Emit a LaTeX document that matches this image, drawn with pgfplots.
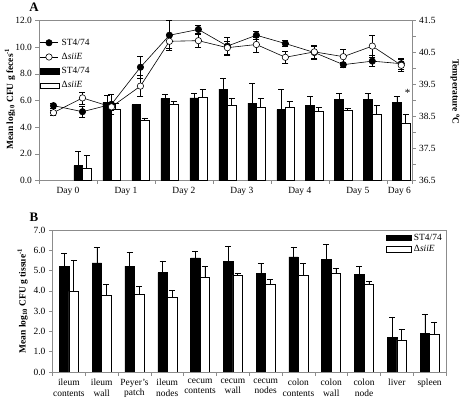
\documentclass[border=0pt]{standalone}
\usepackage{fontspec}
\setmainfont{Liberation Serif}
\usepackage{pgfplots}
\usepackage{pgfplotstable}
\pgfplotsset{compat=1.18}
\definecolor{axgray}{gray}{0.55}

% feces CFU (left axis), half-day positions
\pgfplotstableread{
x  b     be    w     we
1  1.12  1.08  0.95  0.95
2  5.86  0.55  5.36  0.45
3  5.69  0.05  4.49  0.20
4  6.14  0.30  5.74  0.20
5  6.19  0.37  6.26  0.60
6  6.86  0.82  5.61  0.58
7  5.81  1.50  5.49  0.70
8  5.31  1.55  5.49  0.45
9  5.61  0.70  5.19  0.32
10 6.06  0.50  5.24  0.20
11 6.06  0.50  4.99  0.62
12 5.86  0.45  4.32  0.62
}\dataA

% temperature (right axis)
\pgfplotstableread{
x  t      te    o      oe
0  38.84  0.08  38.62  0.08
1  38.65  0.18  39.08  0.19
2  38.88  0.30  38.80  0.10
3  40.04  0.35  39.45  0.33
4  41.04  0.46  40.85  0.21
5  41.22  0.13  40.87  0.21
6  40.70  0.28  40.65  0.20
7  41.04  0.13  40.75  0.23
8  40.78  0.10  40.35  0.20
9  40.50  0.20  40.52  0.20
10 40.12  0.08  40.37  0.24
11 40.23  0.17  40.70  0.34
12 40.15  0.17  40.10  0.20
}\dataT

% tissue CFU
\pgfplotstableread{
x  b     be    w     we
0  5.22  0.65  3.97  1.53
1  5.38  0.79  3.78  0.52
2  5.22  0.68  3.82  0.40
3  4.90  0.58  3.67  0.35
4  5.62  0.35  4.67  0.55
5  5.45  0.77  4.78  0.09
6  4.87  0.50  4.33  0.22
7  5.67  0.50  4.78  0.59
8  5.55  0.73  4.88  0.24
9  4.80  0.42  4.33  0.14
10 1.70  1.02  1.58  0.55
11 1.90  0.97  1.87  0.60
}\dataB

\pgfplotsset{
  base/.style={
    scale only axis,
    tick align=outside,
    axis line style={axgray},
    tick style={axgray, line width=0.5pt},
    major tick length=3.5bp,
    minor tick length=3.5bp,
    tick label style={font=\fontsize{9.5}{10.5}\selectfont, black},
    label style={font=\bfseries\fontsize{9.5}{11}\selectfont},
    /pgf/number format/assume math mode=true,
  },
  errs/.style={error bars/.cd, y dir=#1, y explicit,
    error bar style={black, line width=0.55pt},
    error mark options={rotate=90, black, mark size=3bp, line width=0.55pt}},
}

\begin{document}
\begin{tikzpicture}
\useasboundingbox (0,0) rectangle (462bp,400bp);

% ---------- Panel A: bars (left axis) ----------
\begin{axis}[base,
  at={(39bp,219.5bp)}, anchor=south west,
  width=373bp, height=160bp,
  xmin=-0.5, xmax=12.37, ymin=0, ymax=12,
  xtick={-0.5,1.5,3.5,5.5,7.5,9.5,11.5,12.37},
  x tick label as interval,
  xticklabels={Day 0,Day 1,Day 2,Day 3,Day 4,Day 5,Day 6},
  xtick pos=left, ytick pos=left,
  ytick={0,2,...,12},
  yticklabel style={/pgf/number format/.cd,fixed,fixed zerofill,precision=1},
  ybar=0pt, bar width=8.6bp,
]
\addplot[fill=black, draw=black, line width=0.5pt, errs=plus]
  table[x=x, y=b, y error=be] {\dataA};
\addplot[fill=white, draw=black, line width=0.5pt, errs=plus]
  table[x=x, y=w, y error=we] {\dataA};
\node[font=\fontsize{11}{11}\selectfont] at (axis cs:12.22,6.55) {*};
\end{axis}
\node[rotate=90, font=\bfseries\fontsize{9.5}{11}\selectfont] at (10bp,301bp) {Mean log\textsubscript{10} CFU g feces\textsuperscript{-1}};

% ---------- Panel A: temperature (right axis) ----------
\begin{axis}[base,
  at={(39bp,219.5bp)}, anchor=south west,
  width=373bp, height=160bp,
  xmin=-0.5, xmax=12.37, ymin=36.5, ymax=41.5,
  axis x line=none, axis y line*=right,
  ytick={36.5,37.5,...,41.5},
  minor ytick={37,38,39,40,41},
  yticklabel style={/pgf/number format/.cd,fixed,fixed zerofill,precision=1},
  legend style={at={(0.0,0.905)}, anchor=north west, draw=none, fill=none,
    font=\fontsize{9.5}{11}\selectfont, row sep=2.5bp, inner sep=1bp},
  legend cell align=left,
]
\addplot[black, line width=0.6pt, mark=*, mark size=3.2bp,
  mark options={fill=black, line width=0.6pt}, errs=both]
  table[x=x, y=t, y error=te] {\dataT};
\addplot[black, line width=0.6pt, mark=*, mark size=3.2bp,
  mark options={fill=white, line width=0.6pt}, errs=both]
  table[x=x, y=o, y error=oe] {\dataT};
\addlegendimage{legend image code/.code={\draw[fill=black,draw=black] (0bp,-2.6bp) rectangle (19bp,2.6bp);}}
\addlegendimage{legend image code/.code={\draw[fill=white,draw=black] (0bp,-2.6bp) rectangle (19bp,2.6bp);}}
\legend{ST4/74, Δ\textit{siiE}, ST4/74, Δ\textit{siiE}}
\end{axis}
\node[rotate=-90, font=\bfseries\fontsize{9.5}{11}\selectfont] at (455bp,308bp) {Temperature \textsuperscript{o}C};

% ---------- Panel B ----------
\begin{axis}[base,
  at={(52.5bp,28bp)}, anchor=south west,
  width=393.5bp, height=142bp,
  xmin=-0.5, xmax=11.5, ymin=0, ymax=7,
  xtick={-0.5,0.5,...,11.5},
  x tick label as interval,
  xticklabels={{ileum\\contents},{ileum\\wall},{Peyer's\\patch},{ileum\\nodes},{cecum\\contents},{cecum\\wall},{cecum\\nodes},{colon\\contents},{colon\\wall},{colon\\node},{liver},{spleen}},
  xticklabel style={align=center, text depth=0pt},
  xtick pos=left, ytick pos=left,
  ytick={0,1,...,7},
  yticklabel style={/pgf/number format/.cd,fixed,fixed zerofill,precision=1},
  ylabel={Mean log\textsubscript{10} CFU g tissue\textsuperscript{-1}},
  ylabel style={yshift=-1bp},
  ybar=0pt, bar width=9.5bp,
  legend style={at={(1.0,1.0)}, anchor=north east, draw=none, fill=none,
    font=\fontsize{9.5}{11}\selectfont, row sep=-0.5bp, inner sep=2bp},
  legend cell align=left,
  legend image code/.code={\draw[#1] (0bp,-2.6bp) rectangle (25bp,2.6bp);},
]
\addplot[fill=black, draw=black, line width=0.5pt, errs=plus]
  table[x=x, y=b, y error=be] {\dataB};
\addplot[fill=white, draw=black, line width=0.5pt, errs=plus]
  table[x=x, y=w, y error=we] {\dataB};
\legend{ST4/74, Δ\textit{siiE}}
\end{axis}

\node[font=\bfseries\fontsize{13}{13}\selectfont] at (34bp,393bp) {A};
\node[font=\bfseries\fontsize{13}{13}\selectfont] at (34bp,183bp) {B};
\end{tikzpicture}
\end{document}
